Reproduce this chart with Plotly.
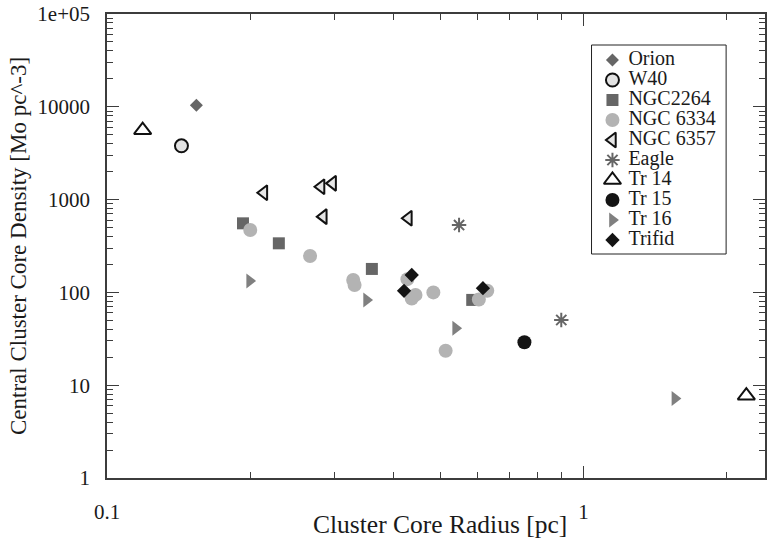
import plotly.graph_objects as go

# ---------------- data ----------------
orion_x = [0.154]
orion_y = [10400]

w40_x = [0.1433]
w40_y = [3800]

ngc2264_x = [0.1929, 0.2294, 0.3596, 0.584]
ngc2264_y = [555, 338, 179, 83]

ngc6334_x = [0.1998, 0.2668, 0.3286, 0.3308, 0.427, 0.436, 0.444, 0.484, 0.5136, 0.603, 0.628]
ngc6334_y = [470, 247, 136, 120, 139, 86, 94, 100, 23.5, 84, 104]

ngc6357_x = [0.2134, 0.2813, 0.2975, 0.2844, 0.429]
ngc6357_y = [1187, 1378, 1497, 655, 629]

eagle_x = [0.548, 0.898]
eagle_y = [532, 50.4]

tr14_x = [0.1188, 2.196]
tr14_y = [5600, 7.7]

tr15_x = [0.7515]
tr15_y = [29]

tr16_x = [0.1992, 0.3505, 0.539, 1.555]
tr16_y = [133, 82.8, 41, 7.2]

trifid_x = [0.436, 0.4201, 0.615]
trifid_y = [154, 104, 111]

series_names = ["Orion", "W40", "NGC2264", "NGC 6334", "NGC 6357",
                "Eagle", "Tr 14", "Tr 15", "Tr 16", "Trifid"]

x_tick_vals = [0.1, 1]
x_tick_text = ["0.1", "1"]
y_tick_vals = [1, 10, 100, 1000, 10000, 100000]
y_tick_text = ["1", "10", "100", "1000", "10000", "1e+05"]

x_title = "Cluster Core Radius [pc]"
y_title = "Central Cluster Core Density [Mo pc^-3]"

# ---------------- styles ----------------
FONT = "Liberation Serif"
styles = {
    "Orion":    dict(symbol="diamond", size=10, color="#666666", line=dict(width=0)),
    "W40":      dict(symbol="circle", size=13, color="#e3e3e3", line=dict(color="#111111", width=2)),
    "NGC2264":  dict(symbol="square", size=12, color="#666666", line=dict(width=0)),
    "NGC 6334": dict(symbol="circle", size=14, color="#b3b3b3", line=dict(width=0)),
    "NGC 6357": dict(symbol="triangle-left", size=13, color="#e6e6e6", line=dict(color="#111111", width=2)),
    "Eagle":    dict(symbol="asterisk-open", size=12, color="#666666", line=dict(color="#777777", width=2)),
    "Tr 14":    dict(symbol="triangle-up", size=15, color="#ffffff", line=dict(color="#111111", width=2)),
    "Tr 15":    dict(symbol="circle", size=14, color="#141414", line=dict(width=0)),
    "Tr 16":    dict(symbol="triangle-right", size=13, color="#808080", line=dict(width=0)),
    "Trifid":   dict(symbol="diamond", size=11, color="#141414", line=dict(width=0)),
}

data = {
    "Orion": (orion_x, orion_y),
    "W40": (w40_x, w40_y),
    "NGC2264": (ngc2264_x, ngc2264_y),
    "NGC 6334": (ngc6334_x, ngc6334_y),
    "NGC 6357": (ngc6357_x, ngc6357_y),
    "Eagle": (eagle_x, eagle_y),
    "Tr 14": (tr14_x, tr14_y),
    "Tr 15": (tr15_x, tr15_y),
    "Tr 16": (tr16_x, tr16_y),
    "Trifid": (trifid_x, trifid_y),
}

fig = go.Figure()
for name in series_names:
    xs, ys = data[name]
    fig.add_trace(go.Scatter(x=xs, y=ys, mode="markers", name=name,
                             marker=styles[name], showlegend=False,
                             cliponaxis=False))

# ---------------- manual legend (overlay axes 0..1) ----------------
W, H = 768, 543
L, R, T, B = 107, 1, 14, 65
pw, ph = W - L - R, H - T - B

def px_to_paper_x(px):
    return (px - L) / pw

def px_to_paper_y(py):
    return (H - B - py) / ph

leg_left, leg_right, leg_top, leg_bottom = 593, 728, 45, 254
row0, row_gap = 60, 20
sym_px, txt_px = 614, 630

leg_y = [px_to_paper_y(row0 + row_gap * i) for i in range(len(series_names))]
for i, name in enumerate(series_names):
    fig.add_trace(go.Scatter(x=[px_to_paper_x(sym_px)], y=[leg_y[i]], mode="markers",
                             marker=styles[name], showlegend=False,
                             xaxis="x2", yaxis="y2", hoverinfo="skip",
                             cliponaxis=False))
fig.add_trace(go.Scatter(x=[px_to_paper_x(txt_px)] * len(series_names), y=leg_y,
                         mode="text", text=series_names, textposition="middle right",
                         textfont=dict(family=FONT, size=20, color="#1a1a1a"),
                         showlegend=False, xaxis="x2", yaxis="y2", hoverinfo="skip",
                         cliponaxis=False))

fig.add_shape(type="rect", xref="paper", yref="paper",
              x0=px_to_paper_x(leg_left), x1=px_to_paper_x(leg_right),
              y0=px_to_paper_y(leg_bottom), y1=px_to_paper_y(leg_top),
              line=dict(color="#222222", width=1), fillcolor="rgba(0,0,0,0)")

# x-axis title as annotation (precise placement)
fig.add_annotation(x=px_to_paper_x(441), y=px_to_paper_y(524), xref="paper", yref="paper",
                   text=x_title, showarrow=False, xanchor="center", yanchor="middle",
                   font=dict(family=FONT, size=25.5, color="#1a1a1a"))

axis_color = "#3c3c3c"
fig.update_layout(
    width=W, height=H,
    margin=dict(l=L, r=R, t=T, b=B),
    paper_bgcolor="white", plot_bgcolor="white",
    font=dict(family=FONT, size=21, color="#1a1a1a"),
    showlegend=False,
    xaxis=dict(
        type="log", range=[-1, 0.3808],
        tickvals=x_tick_vals, ticktext=x_tick_text,
        ticks="inside", ticklen=12, tickwidth=1.3, tickcolor=axis_color,
        minor=dict(ticks="inside", ticklen=6, tickwidth=1.2, tickcolor=axis_color, dtick="D1", showgrid=False),
        showline=True, linecolor=axis_color, linewidth=1.6, mirror="ticks",
        showgrid=False, zeroline=False,
        ticklabelstandoff=14,
        tickfont=dict(family=FONT, size=21),
    ),
    yaxis=dict(
        type="log", range=[0, 5],
        tickvals=y_tick_vals, ticktext=y_tick_text,
        ticks="inside", ticklen=12, tickwidth=1.3, tickcolor=axis_color,
        minor=dict(ticks="inside", ticklen=6, tickwidth=1.2, tickcolor=axis_color, dtick="D1", showgrid=False),
        showline=True, linecolor=axis_color, linewidth=1.6, mirror="ticks",
        showgrid=False, zeroline=False,
        ticklabelstandoff=11,
        tickfont=dict(family=FONT, size=21),
        title=dict(text=y_title, font=dict(family=FONT, size=23), standoff=4),
    ),
    xaxis2=dict(overlaying="x", range=[0, 1], visible=False, fixedrange=True),
    yaxis2=dict(overlaying="y", range=[0, 1], visible=False, fixedrange=True),
)

fig.write_html("out.html", config={"displayModeBar": False},
               post_script="document.body.style.margin='0';document.body.style.overflow='hidden';")
